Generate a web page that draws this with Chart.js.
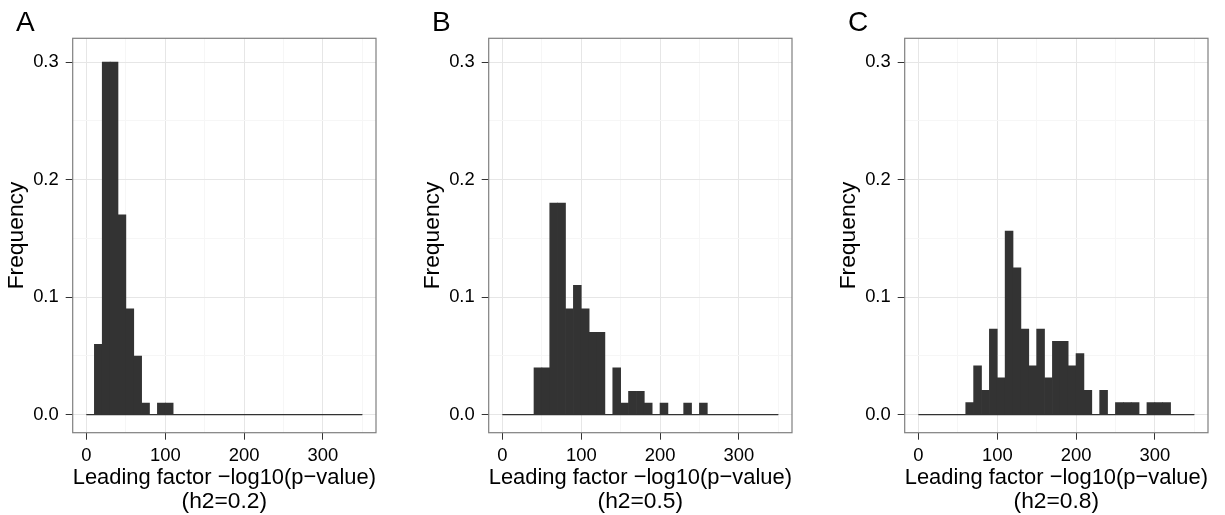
<!DOCTYPE html>
<html>
<head>
<meta charset="utf-8">
<script src="https://cdn.jsdelivr.net/npm/chart.js@4"></script>
<style>
  html, body { margin: 0; padding: 0; background: #fff; }
  body { width: 1225px; height: 515px; position: relative; overflow: hidden; }
  canvas { position: absolute; top: 0; }
</style>
</head>
<body>
<canvas id="panelA" width="393" height="515" style="left:0px"></canvas>
<canvas id="panelB" width="393" height="515" style="left:416px"></canvas>
<canvas id="panelC" width="393" height="515" style="left:832px"></canvas>
<script>
// bin centres, bin width 10
const binCenters = [5, 15, 25, 35, 45, 55, 65, 75, 85, 95, 105, 115, 125, 135, 145, 155, 165, 175,
  185, 195, 205, 215, 225, 235, 245, 255, 265, 275, 285, 295, 305, 315, 325, 335, 345];

// h2 = 0.2
const freqA = [0, 0.06, 0.30, 0.30, 0.17, 0.09, 0.05, 0.01, 0, 0.01, 0.01, 0, 0, 0, 0, 0, 0, 0,
  0, 0, 0, 0, 0, 0, 0, 0, 0, 0, 0, 0, 0, 0, 0, 0, 0];
// h2 = 0.5
const freqB = [0, 0, 0, 0, 0.04, 0.04, 0.18, 0.18, 0.09, 0.11, 0.09, 0.07, 0.07, 0, 0.04, 0.01, 0.02, 0.02,
  0.01, 0, 0.01, 0, 0, 0.01, 0, 0.01, 0, 0, 0, 0, 0, 0, 0, 0, 0];
// h2 = 0.8
const freqC = [0, 0, 0, 0, 0, 0, 0.0104, 0.0417, 0.0208, 0.0729, 0.0313, 0.1563, 0.125, 0.0729, 0.0417, 0.0729, 0.0313, 0.0625,
  0.0625, 0.0417, 0.0521, 0.0208, 0, 0.0208, 0, 0.0104, 0.0104, 0.0104, 0, 0.0104, 0.0104, 0.0104, 0, 0, 0];

const xTicks = [0, 50, 100, 150, 200, 250, 300, 350];
const yTicks = [0, 0.05, 0.1, 0.15, 0.2, 0.25, 0.3];
const baseline = [0, 350];

const panelLabels = ['A', 'B', 'C'];
const h2Labels = ['(h2=0.2)', '(h2=0.5)', '(h2=0.8)'];
const xTitle = 'Leading factor \u2212log10(p\u2212value)';
const yTitle = 'Frequency';

const FONT = '"Liberation Sans", Arial, Helvetica, sans-serif';

const isMajorX = v => v % 100 === 0;
const isMajorY = v => Math.abs(v * 10 - Math.round(v * 10)) < 1e-6;
// grid / tick colours, guarded since the context has no tick for some lookups
const gridColor = isMajor => c => (c.tick && !isMajor(c.tick.value)) ? '#f6f6f6' : '#e6e6e6';
const tickColor = isMajor => c => (c.tick && !isMajor(c.tick.value)) ? 'rgba(0,0,0,0)' : '#333';

const panelBorder = {
  id: 'panelBorder',
  afterDatasetsDraw(chart) {
    const { ctx, chartArea: a } = chart;
    ctx.save();
    ctx.strokeStyle = '#7f7f7f';
    ctx.lineWidth = 1.2;
    ctx.strokeRect(a.left, a.top, a.right - a.left, a.bottom - a.top);
    ctx.restore();
  }
};

const panelLetter = {
  id: 'panelLetter',
  afterDraw(chart, args, opts) {
    const { ctx } = chart;
    ctx.save();
    ctx.fillStyle = '#000';
    ctx.font = `28px ${FONT}`;
    ctx.textBaseline = 'alphabetic';
    ctx.fillText(opts.text, 16, 31);
    ctx.restore();
  }
};

const buildPanel = (canvas, freqs, letter, h2) => {
  new Chart(canvas, {
    type: 'bar',
    data: {
      datasets: [{
        data: binCenters.map((x, i) => ({ x, y: freqs[i] })),
        backgroundColor: '#333333',
        borderWidth: 0,
        barPercentage: 1,
        categoryPercentage: 1,
      }, {
        type: 'line',
        data: baseline.map(x => ({ x, y: 0 })),
        borderColor: '#333333',
        borderWidth: 1.2,
        pointRadius: 0,
      }],
    },
    options: {
      responsive: false,
      animation: false,
      layout: { padding: { left: 0, top: 38.3, right: 17, bottom: 0 } },
      plugins: {
        legend: { display: false },
        tooltip: { enabled: false },
        panelLetter: { text: letter },
      },
      scales: {
        x: {
          type: 'linear',
          min: -17.5,
          max: 367.5,
          offset: false,
          afterBuildTicks: s => { s.ticks = xTicks.map(value => ({ value })); },
          afterFit: s => { s.height = 82.3; },
          border: { display: false },
          grid: {
            offset: false,
            color: gridColor(isMajorX),
            lineWidth: 1,
            tickLength: 7,
            tickColor: tickColor(isMajorX),
          },
          ticks: {
            autoSkip: false,
            maxRotation: 0,
            padding: 5,
            color: '#000',
            font: { family: FONT, size: 18.4 },
            callback: v => isMajorX(v) ? String(v) : '',
          },
          title: {
            display: true,
            text: [xTitle, h2],
            color: '#000',
            font: { family: FONT, size: 22.8, lineHeight: '24px' },
            padding: { top: 0, bottom: 1.5 },
          },
        },
        y: {
          min: -0.0153,
          max: 0.3203,
          afterBuildTicks: s => { s.ticks = yTicks.map(value => ({ value })); },
          afterFit: s => { s.width = 72.7; },
          border: { display: false },
          grid: {
            color: gridColor(isMajorY),
            lineWidth: 1,
            tickLength: 7,
            tickColor: tickColor(isMajorY),
          },
          ticks: {
            autoSkip: false,
            padding: 7,
            color: '#000',
            font: { family: FONT, size: 18.4 },
            callback: v => isMajorY(v) ? v.toFixed(1) : '',
          },
          title: {
            display: true,
            text: yTitle,
            color: '#000',
            font: { family: FONT, size: 22.8, lineHeight: 1.2 },
            padding: { top: 3, bottom: 0 },
          },
        },
      },
    },
    plugins: [panelBorder, panelLetter],
  });
};

buildPanel(document.getElementById('panelA'), freqA, panelLabels[0], h2Labels[0]);
buildPanel(document.getElementById('panelB'), freqB, panelLabels[1], h2Labels[1]);
buildPanel(document.getElementById('panelC'), freqC, panelLabels[2], h2Labels[2]);
</script>
</body>
</html>
